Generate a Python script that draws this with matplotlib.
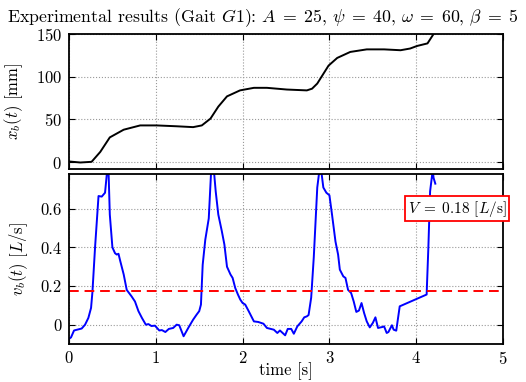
import matplotlib
matplotlib.use("Agg")
import matplotlib.pyplot as plt
from matplotlib.ticker import FixedLocator, FixedFormatter

plt.rcParams['font.family'] = 'serif'
plt.rcParams['font.serif'] = ['cmr10']
plt.rcParams['mathtext.fontset'] = 'cm'
plt.rcParams['axes.formatter.use_mathtext'] = True
plt.rcParams['font.size'] = 12

# top: position x_b(t) [mm]
t_pos = [0, 0.13, 0.26, 0.36, 0.47, 0.63, 0.82, 1.01, 1.24, 1.43, 1.53, 1.63, 1.72,
         1.82, 1.97, 2.13, 2.28, 2.51, 2.74, 2.80, 2.86, 2.99, 3.09, 3.24, 3.43,
         3.63, 3.82, 3.93, 4.01, 4.13, 4.20, 4.23]
x_pos = [0.8, -0.4, 0.4, 12, 29, 38, 43, 43, 42, 41, 43, 51, 65,
         77, 84, 87, 87, 85, 84, 86, 92, 113, 122, 129, 132,
         132, 131, 133, 136, 139, 150, 156]

# bottom: velocity v_b(t) [L/s]
t_vel = [0, 0.023, 0.058, 0.146, 0.185, 0.223, 0.254, 0.27, 0.3, 0.34, 0.377, 0.415,
         0.44, 0.455, 0.47, 0.5, 0.53, 0.55, 0.57, 0.59, 0.63, 0.665, 0.72, 0.76,
         0.8, 0.84, 0.885, 0.915, 0.95, 0.99, 1.04, 1.07, 1.11, 1.15, 1.2, 1.24,
         1.27, 1.32, 1.38, 1.43, 1.47, 1.5, 1.52, 1.54, 1.57, 1.61, 1.64, 1.665,
         1.69, 1.72, 1.76, 1.79, 1.82, 1.86, 1.885, 1.915, 1.946, 1.973, 2.0, 2.03,
         2.07, 2.13, 2.18, 2.24, 2.28, 2.36, 2.4, 2.43, 2.49, 2.52, 2.56, 2.59,
         2.63, 2.68, 2.71, 2.74, 2.76, 2.79, 2.82, 2.86, 2.885, 2.905, 2.93, 2.965,
         3.0, 3.03, 3.07, 3.1, 3.12, 3.16, 3.185, 3.215, 3.25, 3.28, 3.31, 3.34,
         3.37, 3.4, 3.43, 3.465, 3.5, 3.53, 3.56, 3.61, 3.63, 3.66, 3.68, 3.72,
         3.74, 3.77, 3.81, 4.12, 4.14, 4.16, 4.19, 4.2, 4.22]
v_vel = [-0.073, -0.066, -0.03, -0.02, 0.0, 0.035, 0.087, 0.17, 0.40, 0.666, 0.663, 0.683,
         0.80, 0.80, 0.57, 0.40, 0.37, 0.363, 0.367, 0.33, 0.26, 0.18, 0.147, 0.12,
         0.07, 0.035, 0.0, 0.003, -0.007, -0.005, -0.03, -0.028, -0.038, -0.022, -0.017, 0.0,
         -0.003, -0.06, -0.012, 0.026, 0.052, 0.07, 0.104, 0.31, 0.44, 0.55, 0.82, 0.82,
         0.69, 0.57, 0.485, 0.415, 0.30, 0.26, 0.242, 0.19, 0.156, 0.13, 0.112, 0.104,
         0.07, 0.017, 0.014, 0.005, -0.017, -0.026, -0.043, -0.03, -0.055, -0.022, -0.022, -0.047,
         -0.009, 0.017, 0.038, 0.043, 0.05, 0.14, 0.35, 0.71, 0.80, 0.80, 0.71, 0.683,
         0.67, 0.57, 0.43, 0.363, 0.285, 0.25, 0.242, 0.18, 0.164, 0.12, 0.066, 0.073,
         0.112, 0.06, 0.017, -0.014, 0.009, 0.038, -0.017, -0.012, -0.009, -0.043, -0.038, -0.003,
         -0.026, -0.031, 0.095, 0.156, 0.4, 0.69, 0.80, 0.76, 0.73]

v_mean = 0.176
x_ticks = [0, 1, 2, 3, 4, 5]
pos_ticks = [0, 50, 100, 150]
vel_ticks = [0, 0.2, 0.4, 0.6]
vel_ticklabels = ['0', '0.2', '0.4', '0.6']

fig = plt.figure(figsize=(5.26, 3.82), dpi=100)
ax1 = fig.add_axes([0.1312, 0.5576, 0.8251, 0.3534])
ax2 = fig.add_axes([0.1312, 0.0995, 0.8251, 0.445])

for ax in (ax1, ax2):
    ax.grid(True, linestyle=':', color='#999999', linewidth=0.8)
    ax.tick_params(direction='in', top=True, right=True, length=4, width=0.8, pad=5)
    for s in ax.spines.values():
        s.set_linewidth(1.3)
    ax.set_xlim(0, 5)
    ax.xaxis.set_major_locator(FixedLocator(x_ticks))

ax2.tick_params(axis='x', pad=4)

ax1.plot(t_pos, x_pos, color='black', linewidth=1.4)
ax1.set_ylim(-8, 150)
ax1.yaxis.set_major_locator(FixedLocator(pos_ticks))
ax1.set_xticklabels([])
ax1.set_ylabel(r'$x_b(t)$ [mm]', labelpad=8)
fig.text(0.5, 0.955,
         r'Experimental results (Gait $G1$): $A\;=\;25$, $\psi\;=\;40$, $\omega\;=\;60$, $\beta\;=\;5$',
         ha='center', va='center', fontsize=12.8)

ax2.plot(t_vel, v_vel, color='blue', linewidth=1.4)
ax2.axhline(v_mean, color='red', linestyle='--', linewidth=1.4, dashes=(5, 3))
ax2.set_ylim(-0.1, 0.78)
ax2.yaxis.set_major_locator(FixedLocator(vel_ticks))
ax2.yaxis.set_major_formatter(FixedFormatter(vel_ticklabels))
ax2.set_xlabel('time [s]', labelpad=-3)
ax2.set_ylabel(r'$v_b(t)$ [$L$/s]', labelpad=8)
ax2.text(4.47, 0.60, r'$V\;=\;0.18$ [$L$/s]', ha='center', va='center', fontsize=11,
         bbox=dict(boxstyle='square,pad=0.15', facecolor='white', edgecolor='red', linewidth=1.3),
         zorder=5, clip_on=False)

fig.savefig('out.png', dpi=100)
